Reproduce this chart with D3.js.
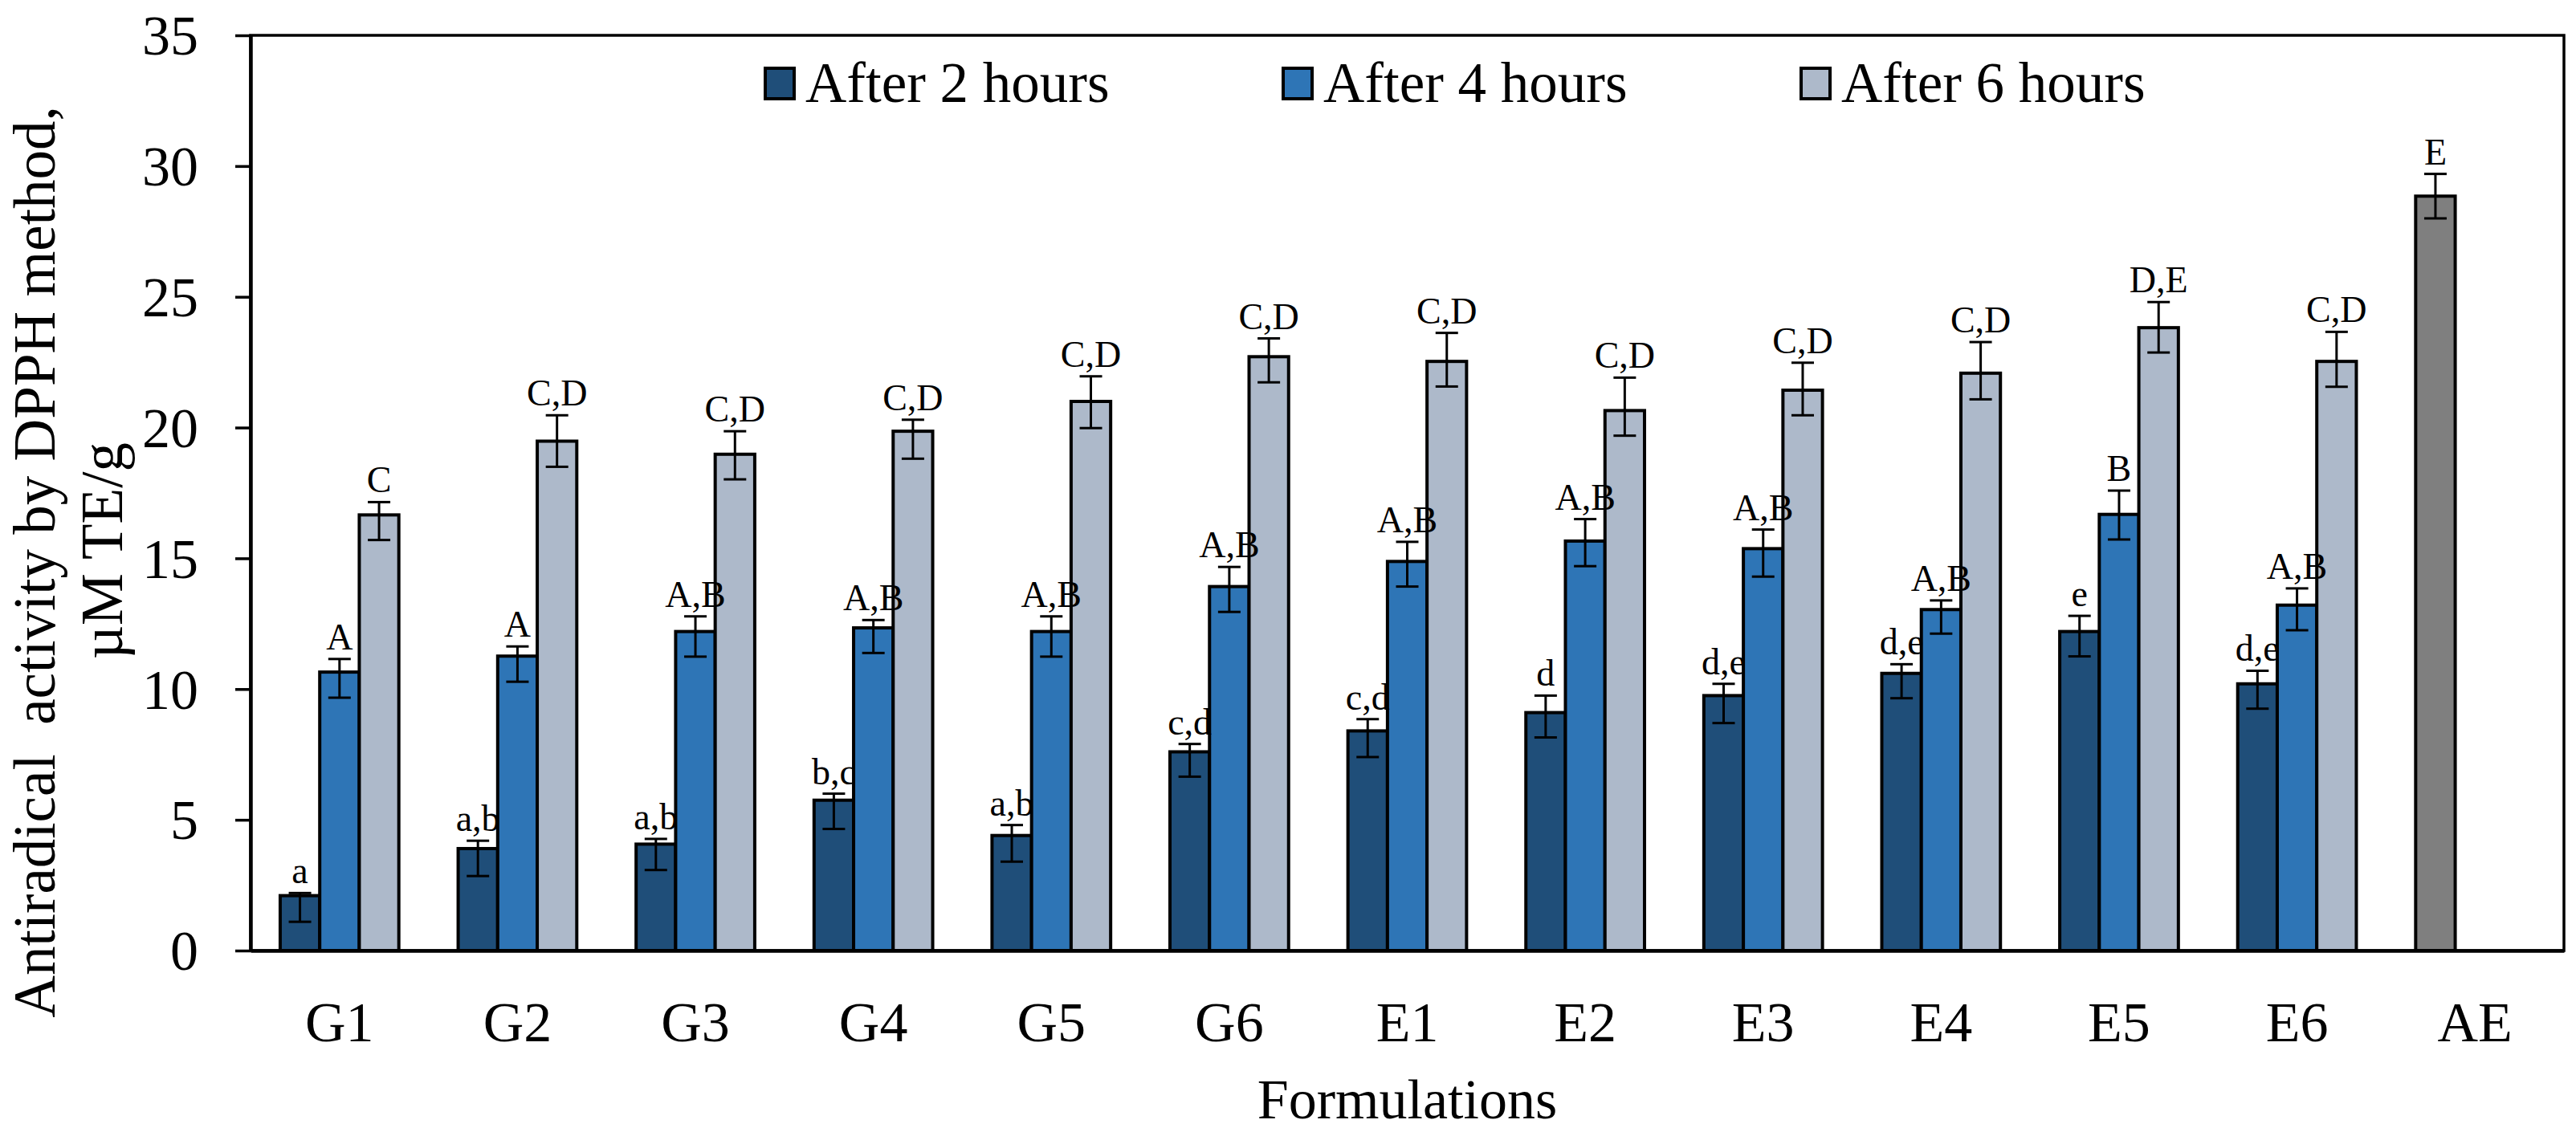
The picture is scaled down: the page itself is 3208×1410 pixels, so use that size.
<!DOCTYPE html>
<html>
<head>
<meta charset="utf-8">
<script src="https://cdn.jsdelivr.net/npm/d3@7"></script>
<style>
  html, body { margin: 0; padding: 0; background: #fff; }
  svg text { font-family: "Liberation Serif", "Times New Roman", serif; fill: #000; }
</style>
</head>
<body>
<div id="chart"></div>
<script>
// Categories and series
const categories = ['G1', 'G2', 'G3', 'G4', 'G5', 'G6', 'E1', 'E2', 'E3', 'E4', 'E5', 'E6', 'AE'];
const seriesNames = ['After 2 hours', 'After 4 hours', 'After 6 hours'];

// After 2 hours (AE reference sits in this series slot)
const after2h   = [2.1, 3.9, 4.07, 5.75, 4.4, 7.6, 8.4, 9.1, 9.75, 10.6, 12.2, 10.2, 28.85];
const after2hHi = [2.2, 4.2, 4.27, 6.0, 4.8, 7.9, 8.85, 9.75, 10.2, 10.95, 12.8, 10.7, 29.7];
const after2hLo = [1.1, 2.85, 3.08, 4.65, 3.4, 6.65, 7.4, 8.15, 8.7, 9.65, 11.25, 9.25, 28.0];
const after2hLabels = ['a', 'a,b', 'a,b', 'b,c', 'a,b', 'c,d', 'c,d', 'd', 'd,e', 'd,e', 'e', 'd,e', 'E'];

// After 4 hours
const after4h   = [10.65, 11.26, 12.2, 12.34, 12.2, 13.92, 14.88, 15.66, 15.37, 13.04, 16.68, 13.21, null];
const after4hHi = [11.15, 11.63, 12.78, 12.64, 12.78, 14.67, 15.63, 16.5, 16.1, 13.39, 17.59, 13.85, null];
const after4hLo = [9.67, 10.28, 11.24, 11.38, 11.24, 12.95, 13.92, 14.7, 14.3, 12.12, 15.72, 12.25, null];
const after4hLabels = ['A', 'A', 'A,B', 'A,B', 'A,B', 'A,B', 'A,B', 'A,B', 'A,B', 'A,B', 'B', 'A,B', null];

// After 6 hours
const after6h   = [16.66, 19.48, 18.98, 19.86, 21.0, 22.71, 22.53, 20.65, 21.43, 22.08, 23.82, 22.53, null];
const after6hHi = [17.15, 20.47, 19.86, 20.3, 21.96, 23.41, 23.62, 21.91, 22.48, 23.27, 24.8, 23.66, null];
const after6hLo = [15.7, 18.5, 18.02, 18.81, 19.98, 21.73, 21.57, 19.69, 20.47, 21.08, 22.87, 21.56, null];
const after6hLabels = ['C', 'C,D', 'C,D', 'C,D', 'C,D', 'C,D', 'C,D', 'C,D', 'C,D', 'C,D', 'D,E', 'C,D', null];

const yTicks = [0, 5, 10, 15, 20, 25, 30, 35];
const refCategory = 'AE';

const colors = ['#1f4e79', '#2e75b6', '#adb9ca'];
const refColor = '#7f7f7f';

const W = 3208, H = 1410;
const plot = { left: 312, right: 3193, top: 44, bottom: 1184 };

const svg = d3.select('#chart').append('svg')
  .attr('width', W).attr('height', H)
  .attr('viewBox', `0 0 ${W} ${H}`);

const x = d3.scaleBand().domain(categories).range([plot.left, plot.right]).padding(0);
// three bars per group, gap width 150% of a bar
const xs = d3.scaleBand().domain([0, 1, 2]).range([0, x.bandwidth()]).paddingInner(0).paddingOuter(0.75);
const y = d3.scaleLinear().domain([0, 35]).range([plot.bottom, plot.top]);

const series = [
  { v: after2h, hi: after2hHi, lo: after2hLo, lab: after2hLabels },
  { v: after4h, hi: after4hHi, lo: after4hLo, lab: after4hLabels },
  { v: after6h, hi: after6hHi, lo: after6hLo, lab: after6hLabels }
];

const rows = [];
series.forEach((s, si) => {
  categories.forEach((c, ci) => {
    if (s.v[ci] == null) return;
    rows.push({ cat: c, si, v: s.v[ci], hi: s.hi[ci], lo: s.lo[ci], lab: s.lab[ci] });
  });
});

// plot border
svg.append('rect')
  .attr('x', plot.left).attr('y', plot.top)
  .attr('width', plot.right - plot.left).attr('height', plot.bottom - plot.top)
  .attr('fill', 'none').attr('stroke', '#000').attr('stroke-width', 3.5);

// bars
const cx = d => x(d.cat) + xs(d.si) + xs.bandwidth() / 2;
svg.append('g').selectAll('rect')
  .data(rows).join('rect')
  .attr('x', d => x(d.cat) + xs(d.si))
  .attr('width', xs.bandwidth())
  .attr('y', d => y(d.v))
  .attr('height', d => y(0) - y(d.v))
  .attr('fill', d => d.cat === refCategory ? refColor : colors[d.si])
  .attr('stroke', '#000')
  .attr('stroke-width', 4);

// error bars
const err = svg.append('g').attr('stroke', '#000').attr('stroke-width', 3);
err.selectAll('line.stem').data(rows).join('line').attr('class', 'stem')
  .attr('x1', cx).attr('x2', cx)
  .attr('y1', d => y(d.hi)).attr('y2', d => y(d.lo));
err.selectAll('line.capHi').data(rows).join('line').attr('class', 'capHi')
  .attr('x1', d => cx(d) - 14).attr('x2', d => cx(d) + 14)
  .attr('y1', d => y(d.hi)).attr('y2', d => y(d.hi));
err.selectAll('line.capLo').data(rows).join('line').attr('class', 'capLo')
  .attr('x1', d => cx(d) - 14).attr('x2', d => cx(d) + 14)
  .attr('y1', d => y(d.lo)).attr('y2', d => y(d.lo));

// significance letters
svg.append('g').selectAll('text')
  .data(rows.filter(d => d.lab)).join('text')
  .attr('x', cx)
  .attr('y', d => y(d.hi) - 12)
  .attr('text-anchor', 'middle')
  .style('font-size', '46px')
  .text(d => d.lab);

// y axis
const yAxis = svg.append('g')
  .attr('transform', `translate(${plot.left},0)`)
  .call(d3.axisLeft(y).tickValues(yTicks).tickSize(19).tickSizeOuter(0).tickPadding(46));
yAxis.select('.domain').attr('stroke', '#000').attr('stroke-width', 4.5);
yAxis.selectAll('.tick line').attr('stroke', '#000').attr('stroke-width', 3.5);
yAxis.selectAll('.tick text')
  .attr('dy', '0.34em')
  .style('font-size', '70px')
  .style('font-family', '"Liberation Serif", serif');

// x axis
const xAxis = svg.append('g')
  .attr('transform', `translate(0,${plot.bottom})`)
  .call(d3.axisBottom(x).tickSize(0).tickSizeOuter(0));
xAxis.select('.domain').attr('stroke', '#000').attr('stroke-width', 4.5);
xAxis.selectAll('.tick text')
  .attr('y', 113).attr('dy', null)
  .style('font-size', '70px')
  .style('font-family', '"Liberation Serif", serif');

// axis titles
svg.append('text')
  .attr('x', (plot.left + plot.right) / 2).attr('y', 1393)
  .attr('text-anchor', 'middle')
  .style('font-size', '70px')
  .text('Formulations');

svg.append('text')
  .attr('transform', 'translate(68,700) rotate(-90)')
  .attr('text-anchor', 'middle')
  .style('font-size', '73px')
  .style('white-space', 'pre')
  .text('Antiradical  activity by DPPH method,');
svg.append('text')
  .attr('transform', 'translate(152,686) rotate(-90)')
  .attr('text-anchor', 'middle')
  .style('font-size', '73px')
  .text('\u00b5M TE/g');

// legend
const legend = svg.append('g').attr('transform', 'translate(953,0)');
const item = legend.selectAll('g').data(seriesNames).join('g')
  .attr('transform', (d, i) => `translate(${i * 645},0)`);
item.append('rect')
  .attr('x', 0).attr('y', 85).attr('width', 36).attr('height', 38)
  .attr('fill', (d, i) => colors[i])
  .attr('stroke', '#000').attr('stroke-width', 4);
item.append('text')
  .attr('x', 50).attr('y', 127)
  .style('font-size', '71px')
  .text(d => d);
</script>
</body>
</html>
